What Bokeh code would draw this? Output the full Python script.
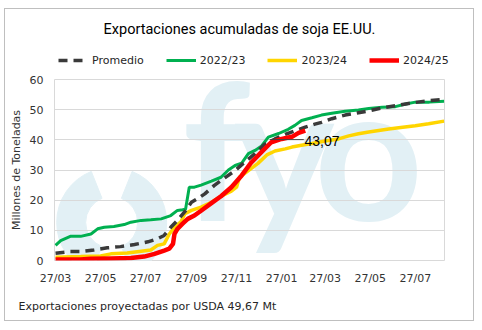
from bokeh.plotting import figure
from bokeh.models import Range1d, FixedTicker, Legend, LegendItem, Label
from bokeh.embed import file_html
from bokeh.resources import INLINE
from bokeh.core.properties import value

# x = days since 27/03
tick_days = [0, 61, 122, 184, 245, 306, 365, 426, 487]
tick_labels = ["27/03", "27/05", "27/07", "27/09", "27/11", "27/01", "27/03", "27/05", "27/07"]
y_ticks = [0, 10, 20, 30, 40, 50, 60]

prom_x = [0, 20, 34, 52, 70, 88, 107, 125, 138, 147, 156, 165, 175, 184, 193, 202, 215, 229,
          243, 256, 270, 283, 297, 311, 324, 338, 351, 360, 374, 392, 410, 424, 442, 460, 474,
          487, 506, 526]
prom_y = [2.4, 3.0, 3.0, 3.5, 4.2, 4.6, 5.3, 6.2, 7.2, 8.3, 11.0, 13.3, 16.2, 19.3, 20.6, 22.1,
          24.9, 27.4, 29.8, 32.6, 35.4, 38.5, 40.3, 41.8, 43.0, 44.2, 45.2, 45.8, 47.0, 48.2,
          49.0, 49.6, 50.6, 51.3, 51.9, 52.4, 53.0, 53.4]

g23_x = [0, 7, 20, 34, 48, 57, 66, 79, 93, 102, 116, 129, 143, 156, 165, 172, 176, 181, 188,
         197, 211, 224, 234, 243, 252, 261, 270, 279, 288, 302, 315, 324, 333, 347, 360, 374,
         392, 410, 424, 442, 460, 474, 487, 506, 526]
g23_y = [5.0, 6.6, 8.0, 8.0, 8.8, 10.5, 11.0, 11.3, 11.9, 12.7, 13.3, 13.5, 13.8, 14.9, 16.6,
         16.8, 17.0, 24.3, 24.3, 25.0, 26.3, 27.6, 30.0, 31.5, 32.3, 35.4, 36.5, 38.0, 40.9,
         42.1, 43.5, 44.8, 46.4, 47.3, 48.2, 48.8, 49.5, 49.9, 50.4, 50.8, 51.0, 51.9, 52.5,
         52.5, 52.8]

y24_x = [0, 34, 61, 75, 97, 116, 129, 138, 147, 154, 161, 170, 175, 184, 197, 211, 224, 238,
         245, 249, 261, 274, 286, 297, 311, 320, 333, 347, 365, 383, 397, 410, 424, 451, 470,
         487, 505, 526]
y24_y = [1.1, 1.3, 1.5, 2.2, 2.5, 3.1, 3.5, 5.0, 5.5, 8.8, 11.0, 12.9, 15.5, 16.6, 17.7, 19.3,
         21.3, 23.0, 24.3, 27.6, 29.8, 32.2, 35.0, 36.3, 37.0, 37.6, 38.2, 38.8, 39.6, 40.3,
         41.3, 42.0, 42.6, 43.6, 44.2, 44.7, 45.3, 46.2]

r25_x = [0, 34, 48, 75, 102, 120, 134, 147, 154, 159, 161, 165, 172, 179, 188, 197, 211, 224,
         238, 252, 265, 279, 292, 306, 320, 329, 338]
r25_y = [0.3, 0.3, 0.6, 0.7, 0.8, 1.3, 2.2, 3.3, 3.9, 5.5, 8.8, 10.5, 12.2, 13.8, 14.9, 16.5,
         19.0, 21.3, 24.3, 28.2, 32.5, 36.0, 39.2, 40.3, 41.0, 42.3, 43.07]

series_names = ["Promedio", "2022/23", "2023/24", "2024/25"]
title_text = "Exportaciones acumuladas de soja EE.UU."
note_text = "Exportaciones proyectadas por USDA 49,67 Mt"

FONT = "DejaVu Sans"
WM = "#e2f0f5"
BORDER = "1px solid #bfbfbf"
STYLES = {
    "Promedio": dict(line_color="#3a3a3a", line_width=3.5, line_dash="9 6"),
    "2022/23": dict(line_color="#00b050", line_width=3),
    "2023/24": dict(line_color="#ffd500", line_width=3.5),
    "2024/25": dict(line_color="#ff0000", line_width=4.5),
}


def blank(height, y_top, y_bottom):
    f = figure(width=470, height=height, x_range=Range1d(5, 473),
               y_range=Range1d(y_bottom, y_top), output_backend="svg",
               toolbar_location=None, min_border=0,
               x_axis_location=None, y_axis_location=None)
    f.title.visible = False
    f.outline_line_color = None
    f.grid.visible = False
    f.background_fill_color = "white"
    f.border_fill_color = "white"
    return f


# ---- top: title + legend
top = blank(63, 9, 71)
top.margin = (8, 0, 0, 4)
top.styles = {"border-top": BORDER, "border-left": BORDER, "border-right": BORDER}
top.text(x=[238], y=[29], text=[title_text], text_font=value("Roboto"), text_font_size="14.5px",
         text_color="#000000", text_align="center", text_baseline="middle")
# off-view proxies carrying the series styles for the legend
dummies = {n: top.line(x=[0, 1], y=[500, 500], **STYLES[n]) for n in series_names}
legend = Legend(items=[LegendItem(label=n, renderers=[dummies[n]]) for n in series_names],
                location=(53, 5), orientation="horizontal", padding=0, margin=0,
                spacing=22, glyph_width=30, glyph_height=14, label_height=14,
                label_standoff=4, border_line_color=None, background_fill_alpha=0,
                label_text_font=FONT, label_text_font_size="11px", label_text_color="#262626")
top.add_layout(legend)

# ---- main chart
p = figure(width=470, height=219, x_range=Range1d(-1.4, 526.5), y_range=Range1d(0, 60),
           output_backend="svg", toolbar_location=None,
           min_border_left=49, min_border_right=31, min_border_top=8, min_border_bottom=30)
p.margin = (0, 0, 0, 4)
p.styles = {"border-left": BORDER, "border-right": BORDER}
p.title.visible = False
p.background_fill_color = "white"
p.border_fill_color = "white"
p.outline_line_color = "#d9d9d9"

# watermark (logo)
p.annular_wedge(x=[76], y=[12.6], inner_radius=26, outer_radius=55,
                inner_radius_units="screen", outer_radius_units="screen",
                start_angle=[1.95], end_angle=[4.33], color=WM, level="image")
p.annular_wedge(x=[76], y=[12.6], inner_radius=26, outer_radius=55,
                inner_radius_units="screen", outer_radius_units="screen",
                start_angle=[-1.19], end_angle=[1.19], color=WM, level="image")
for lx, ch in [(172, "f"), (242, "y"), (350, "o")]:
    p.text(x=[lx], y=[37.6], text=[ch], text_font=value("Lato"), text_font_style="bold",
           text_font_size="190px", text_color=WM, text_baseline="alphabetic", level="image")

p.xaxis.ticker = FixedTicker(ticks=tick_days)
p.xaxis.major_label_overrides = {d: l for d, l in zip(tick_days, tick_labels)}
p.yaxis.ticker = FixedTicker(ticks=y_ticks)
for ax in (p.xaxis[0], p.yaxis[0]):
    ax.axis_line_color = None
    ax.major_tick_line_color = None
    ax.minor_tick_line_color = None
    ax.major_tick_out = 0
    ax.major_tick_in = 0
    ax.minor_tick_out = 0
    ax.major_label_text_font = FONT
    ax.major_label_text_font_size = "11px"
    ax.major_label_text_color = "#333333"
p.xaxis.major_label_standoff = 11
p.yaxis.major_label_standoff = 11
p.yaxis.axis_label = "Millones de Toneladas"
p.yaxis.axis_label_text_font = FONT
p.yaxis.axis_label_text_font_size = "11px"
p.yaxis.axis_label_text_font_style = "normal"
p.yaxis.axis_label_text_color = "#333333"
p.yaxis.axis_label_standoff = 4
p.xgrid.grid_line_color = None
p.ygrid.grid_line_color = "#d9d9d9"

p.line(g23_x, g23_y, **STYLES["2022/23"])
p.line(y24_x, y24_y, **STYLES["2023/24"])
p.line(prom_x, prom_y, **STYLES["Promedio"])
p.line(r25_x, r25_y, **STYLES["2024/25"])

# data label for the last value of 2024/25
last_x, last_y = r25_x[-1], r25_y[-1]
p.line([last_x - 48, last_x - 2], [last_y - 3.0, last_y - 3.0], line_color="#404040", line_width=1)
p.add_layout(Label(x=last_x - 1, y=last_y - 3.3, text=f"{last_y:.2f}".replace(".", ","),
                   text_font="Liberation Sans", text_font_size="14px", text_color="black",
                   text_baseline="middle", text_align="left"))

# ---- bottom note
bot = blank(31, 290, 320)
bot.margin = (0, 0, 0, 4)
bot.styles = {"border-left": BORDER, "border-right": BORDER, "border-bottom": BORDER}
bot.text(x=[18], y=[305], text=[note_text], text_font=value(FONT), text_font_size="11px",
         text_color="#262626", text_align="left", text_baseline="middle")

open("out.html", "w").write(file_html([top, p, bot], INLINE))
